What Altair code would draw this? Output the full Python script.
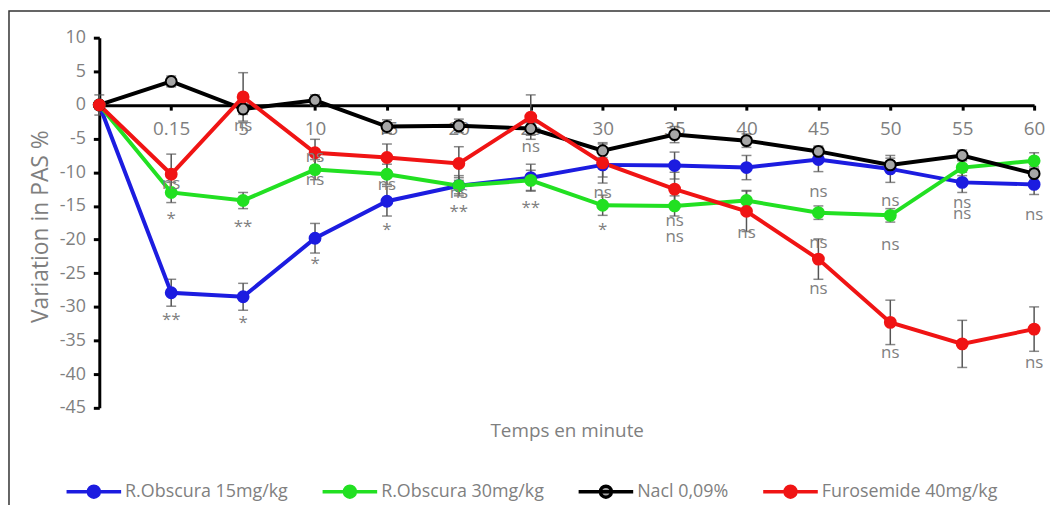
import altair as alt
import pandas as pd

times = ["0", "0.15", "5", "10", "15", "20", "25", "30", "35", "40", "45", "50", "55", "60"]
series_names = ["R.Obscura 15mg/kg", "R.Obscura 30mg/kg", "Nacl 0,09%", "Furosemide 40mg/kg"]
stroke_colors = ["#1c1ce0", "#22e022", "#000000", "#f01414"]
fill_colors = ["#1c1ce0", "#22e022", "#a6a6a6", "#f01414"]

blue = [0, -27.9, -28.5, -19.8, -14.3, -12.0, -10.8, -8.9, -9.0, -9.3, -8.1, -9.5, -11.5, -11.8]
green = [0, -13.0, -14.2, -9.6, -10.3, -12.0, -11.2, -14.9, -15.0, -14.2, -16.0, -16.4, -9.3, -8.3]
black = [0, 3.5, -0.6, 0.7, -3.2, -3.1, -3.5, -6.8, -4.4, -5.3, -6.9, -8.9, -7.5, -10.2]
red = [0, -10.3, 1.2, -7.1, -7.8, -8.7, -1.8, -8.6, -12.5, -15.8, -22.9, -32.3, -35.5, -33.3]

blue_err = [0, 2.0, 2.0, 2.2, 2.2, 1.5, 2.0, 1.8, 2.0, 1.8, 1.8, 2.0, 1.5, 1.5]
green_err = [0, 1.5, 1.2, 1.5, 1.5, 1.2, 1.5, 1.5, 1.5, 1.5, 1.0, 1.0, 1.2, 1.2]
black_err = [1.5, 0.8, 0.8, 0.8, 1.0, 1.0, 1.0, 1.0, 1.2, 1.0, 0.8, 1.0, 0.8, 1.0]
red_err = [0, 3.0, 3.6, 2.0, 2.0, 2.5, 3.3, 3.0, 2.5, 3.0, 3.0, 3.3, 3.5, 3.3]

y_ticks = [10, 5, 0, -5, -10, -15, -20, -25, -30, -35, -40, -45]

ann_time = ["0.15", "0.15", "0.15", "5", "5", "5", "10", "10", "10", "15", "15",
            "20", "20", "25", "25", "30", "30", "35", "35", "40", "45", "45", "45",
            "50", "50", "50", "55", "55", "60", "60"]
ann_value = [-11.7, -17.0, -31.9, -3.1, -18.1, -32.4, -7.7, -11.2, -23.6, -11.9, -18.6,
             -13.1, -15.9, -6.2, -15.3, -13.1, -18.6, -17.3, -19.6, -19.0, -13.0, -20.5, -27.4,
             -14.2, -20.8, -36.9, -14.6, -16.2, -16.4, -38.3]
ann_label = ["ns", "*", "**", "ns", "**", "*", "ns", "ns", "*", "ns", "*",
             "ns", "**", "ns", "**", "ns", "*", "ns", "ns", "ns", "ns", "ns", "ns",
             "ns", "ns", "ns", "ns", "ns", "ns", "ns"]

rows = []
for name, vals, errs in zip(series_names, [blue, green, black, red],
                            [blue_err, green_err, black_err, red_err]):
    for t, v, e in zip(times, vals, errs):
        rows.append({"time": t, "series": name, "value": v, "lo": v - e, "hi": v + e})
df = pd.DataFrame(rows)
ann = pd.DataFrame({"time": ann_time, "value": ann_value, "label": ann_label})

FONT = "Open Sans"
GREY = "#7f7f7f"

x_enc = alt.X("time:N", sort=times,
              scale=alt.Scale(type="point", padding=0),
              axis=alt.Axis(title="Temps en minute", orient="bottom", offset=-305,
                            domainColor="#000", domainWidth=3, tickColor="#000", tickWidth=3,
                            tickSize=5, labelPadding=10, labelAngle=0, labelColor=GREY,
                            labelFontSize=19, labelFont=FONT, labelOverlap=False,
                            labelExpr="datum.value == '0' ? '' : datum.label",
                            titleColor=GREY, titleFont=FONT, titleFontSize=19,
                            titleFontWeight="normal", titleY=328, titleX=471,
                            titleBaseline="middle"))
y_scale = alt.Scale(domain=[-45, 10], nice=False, zero=False)
y_axis = alt.Axis(title="Variation in PAS %", values=y_ticks, grid=False,
                  domainColor="#000", domainWidth=3, tickColor="#000", tickWidth=3, tickSize=6,
                  labelPadding=8, labelColor=GREY, labelFontSize=18, labelFont=FONT,
                  labelOverlap=False, labelSeparation=0,
                  labelExpr="replace(datum.label, '\u2212', '-')",
                  titleColor=GREY, titleFontSize=23, titleFont=FONT, titleFontWeight="normal",
                  titlePadding=7, titleY=190)

legend = alt.Legend(title=None, orient="none", direction="horizontal", legendX=-35,
                    legendY=428, symbolType="M-1,0H1M-0.2,0A0.2,0.2 0 1,0 0.2,0A0.2,0.2 0 1,0 -0.2,0Z",
                    symbolSize=3025, symbolStrokeWidth=3.5, labelFont=FONT, labelFontSize=18,
                    labelColor=GREY, labelOffset=2, labelLimit=0, columnPadding=28, padding=0)

stroke_enc = alt.Stroke("series:N", scale=alt.Scale(domain=series_names, range=stroke_colors),
                        legend=legend)
fill_enc = alt.Fill("series:N", scale=alt.Scale(domain=series_names, range=fill_colors),
                    legend=legend)

base = alt.Chart(df)

err_rule = base.mark_rule(color="#555555", strokeWidth=1.5).encode(
    x=x_enc, y=alt.Y("lo:Q", scale=y_scale, axis=y_axis), y2="hi:Q")
cap_lo = base.mark_tick(color="#555555", thickness=1.5, size=10, orient="horizontal").encode(
    x=x_enc, y=alt.Y("lo:Q", scale=y_scale, axis=y_axis))
cap_hi = base.mark_tick(color="#555555", thickness=1.5, size=10, orient="horizontal").encode(
    x=x_enc, y=alt.Y("hi:Q", scale=y_scale, axis=y_axis))

lines = base.mark_line(strokeWidth=4).encode(
    x=x_enc, y=alt.Y("value:Q", scale=y_scale, axis=y_axis), stroke=stroke_enc)
points = base.mark_point(filled=True, size=120, strokeWidth=2, opacity=1).encode(
    x=x_enc, y=alt.Y("value:Q", scale=y_scale, axis=y_axis), stroke=stroke_enc, fill=fill_enc)

texts = alt.Chart(ann).mark_text(font=FONT, fontSize=17, color=GREY, baseline="middle").encode(
    x=x_enc, y=alt.Y("value:Q", scale=y_scale, axis=y_axis), text="label:N")

frame_data = pd.DataFrame({"a": [0]})
frame = alt.Chart(frame_data).mark_rect(fill=None, stroke="#333333", strokeWidth=1.5).encode(
    x=alt.value(-91), x2=alt.value(980), y=alt.value(-27), y2=alt.value(500))

chart = alt.layer(frame, err_rule, cap_lo, cap_hi, lines, points, texts).properties(
    width=942, height=373,
    autosize=alt.AutoSizeParams(type="none"),
    padding={"left": 92, "top": 28, "right": 16, "bottom": 96},
).configure_view(stroke=None).configure_axis(grid=False).configure_axisY(labelOverlap=False)

chart.save("out.html", embed_options={"renderer": "svg", "actions": False})
